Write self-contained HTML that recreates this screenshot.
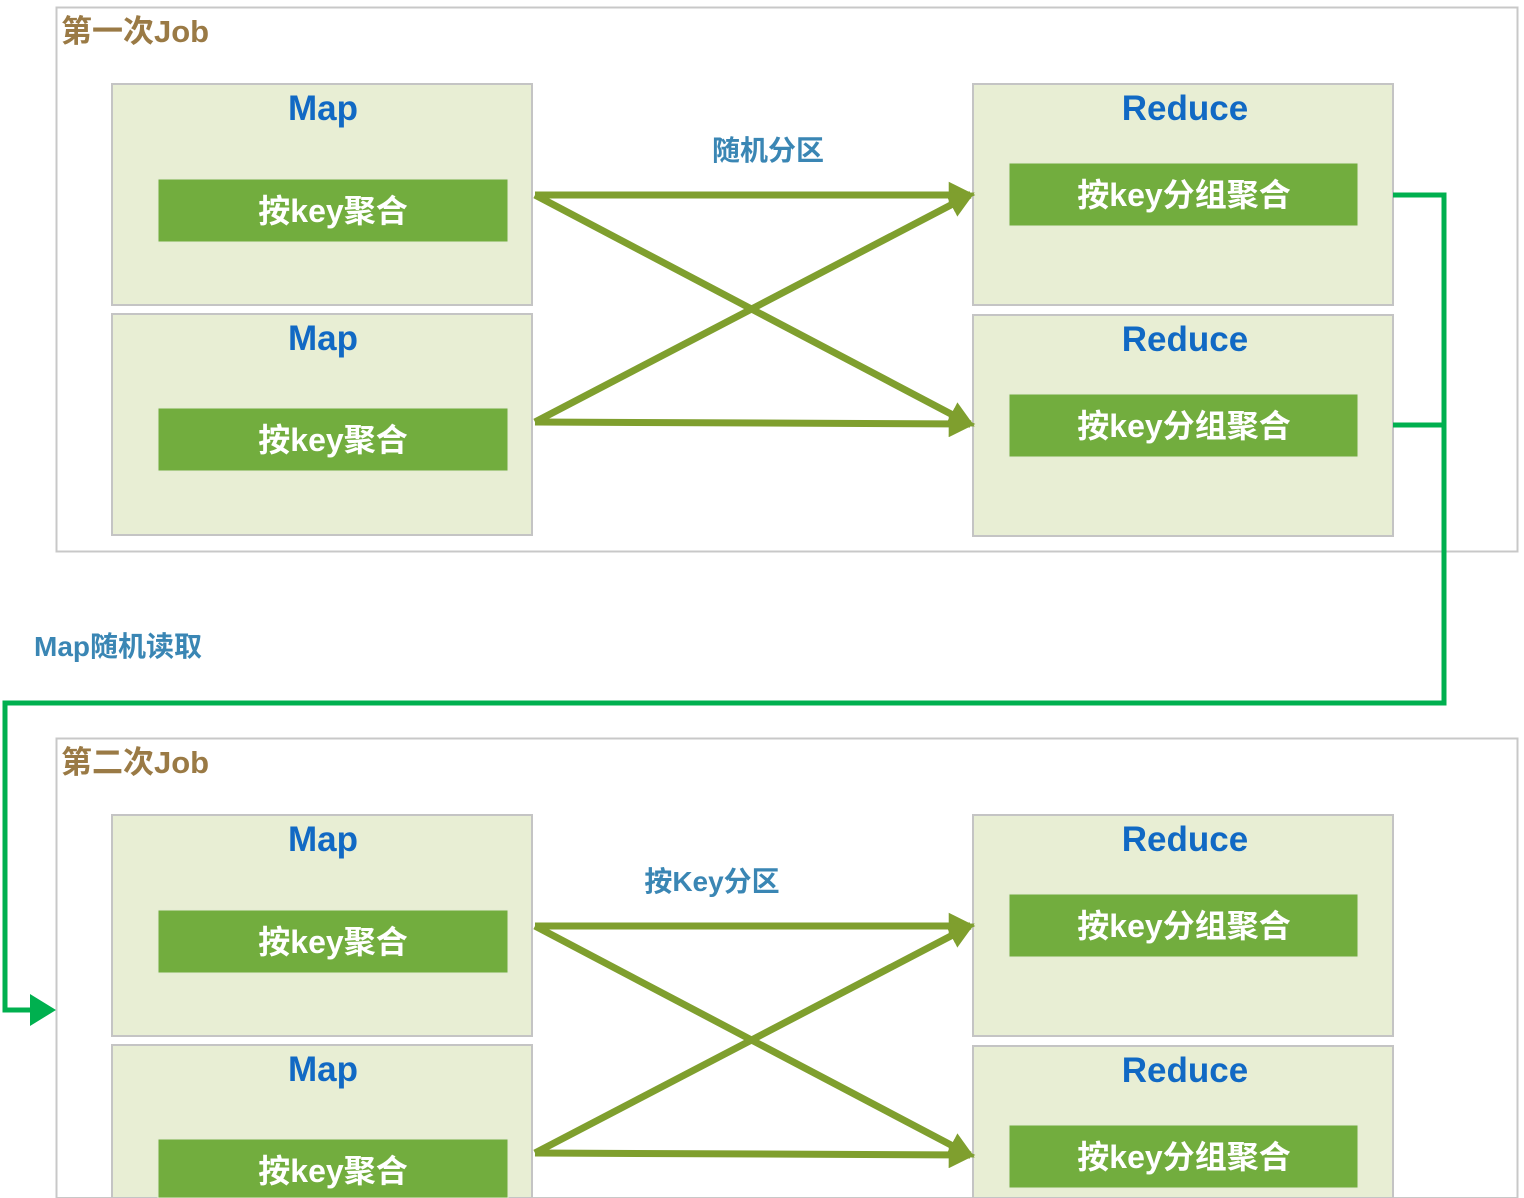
<!DOCTYPE html>
<html><head><meta charset="utf-8">
<style>
html,body{margin:0;padding:0;background:#fff;width:1524px;height:1198px;overflow:hidden}
svg{display:block}
text{font-family:"Liberation Sans","Noto Sans CJK SC",sans-serif}
</style></head>
<body>
<svg id="d" width="1524" height="1198" viewBox="0 0 1524 1198" xmlns="http://www.w3.org/2000/svg">
<defs>
<marker id="ah" viewBox="0 0 10 10" refX="8" refY="5" markerWidth="3.8" markerHeight="3.8" orient="auto" markerUnits="strokeWidth">
<path d="M0,0 L10,5 L0,10 z" fill="#7f9f2e"/></marker>
</defs>
</svg>
<script>
const NS="http://www.w3.org/2000/svg";
const svg=document.getElementById('d');
const jobTitles=["第一次Job","第二次Job"];
const jobOffsets=[0,731];
const partitionLabels=["随机分区","按Key分区"];
const partitionLabelX=[768,712];
const mapBoxesY=[84,314];
const reduceBoxesY=[84,315];
const mapBarsY=[179,408];
const reduceBarsY=[163,394];
const edges=[[0,0],[0,1],[1,0],[1,1]];
const mapOutY=[195,422];
const reduceInY=[195,424];
const MAXY=1198;
function clipH(y,h){return Math.max(0,Math.min(h,MAXY-y));}
function el(tag,attrs,parent){const e=document.createElementNS(NS,tag);for(const k in attrs)e.setAttribute(k,attrs[k]);(parent||svg).appendChild(e);return e;}
function txt(x,y,s,attrs){const t=el('text',Object.assign({x:x,y:y},attrs));t.textContent=s;return t;}
jobTitles.forEach((title,j)=>{
  const o=jobOffsets[j];
  const g=el('g',{});
  
  
  const fr=el('rect',{x:56.5,y:7.5+o,width:1461,height:clipH(7.5+o,544),fill:'#fff',stroke:'#c8c8c8','stroke-width':2},g);
  
  
  const tt=txt(61,42+o,title,{'font-size':31,'font-weight':'bold',fill:'#9a7a45'});
  g.appendChild(tt);
  
  
  mapBoxesY.forEach((y,i)=>{
    const b=el('rect',{x:112,y:y+o,width:420,height:clipH(y+o,221),fill:'#e8eed4',stroke:'#c4c4c4','stroke-width':2},g);
    
    
    const h=txt(323,120+y-84+o,'Map',{'font-size':35,'font-weight':'bold',fill:'#1169c4','text-anchor':'middle'});g.appendChild(h);
    
    
    const bar=el('rect',{x:158,y:mapBarsY[i]+o,width:350,height:clipH(mapBarsY[i]+o,63),fill:'#72ad3e',stroke:'#e4ecd4','stroke-width':1},g);
    
    
    const bt=txt(333,mapBarsY[i]+43+o,'按key聚合',{'font-size':32,'font-weight':'bold',fill:'#fff','text-anchor':'middle'});g.appendChild(bt);
    
    
  });
  reduceBoxesY.forEach((y,i)=>{
    const b=el('rect',{x:973,y:y+o,width:420,height:clipH(y+o,221),fill:'#e8eed4',stroke:'#c4c4c4','stroke-width':2},g);
    
    
    const h=txt(1185,120+y-84+o,'Reduce',{'font-size':35,'font-weight':'bold',fill:'#1169c4','text-anchor':'middle'});g.appendChild(h);
    
    
    const bar=el('rect',{x:1009,y:reduceBarsY[i]+o,width:349,height:clipH(reduceBarsY[i]+o,63),fill:'#72ad3e',stroke:'#e4ecd4','stroke-width':1},g);
    
    
    const bt=txt(1184,reduceBarsY[i]+43+o,'按key分组聚合',{'font-size':32,'font-weight':'bold',fill:'#fff','text-anchor':'middle'});g.appendChild(bt);
    
    
  });
  const pl=txt(partitionLabelX[j],160+o,partitionLabels[j],{'font-size':28,'font-weight':'bold',fill:'#3a86b4','text-anchor':'middle'});g.appendChild(pl);
  
  
  edges.forEach(([m,r])=>{
    const a=el('line',{x1:535,y1:mapOutY[m]+o,x2:970,y2:reduceInY[r]+o,stroke:'#7f9f2e','stroke-width':7,'marker-end':'url(#ah)'},g);
    
    
  });
});
const link=el('polyline',{points:'1393,195 1444,195 1444,703 5,703 5,1010 38,1010',fill:'none',stroke:'#00b04f','stroke-width':5});


const link2=el('line',{x1:1393,y1:425,x2:1444,y2:425,stroke:'#00b04f','stroke-width':5});


const head=el('path',{d:'M30,994 L56,1010 L30,1026 z',fill:'#00b04f'});


const ml=txt(34,656,'Map随机读取',{'font-size':28,'font-weight':'bold',fill:'#3a86b4'});


</script>
</body></html>
